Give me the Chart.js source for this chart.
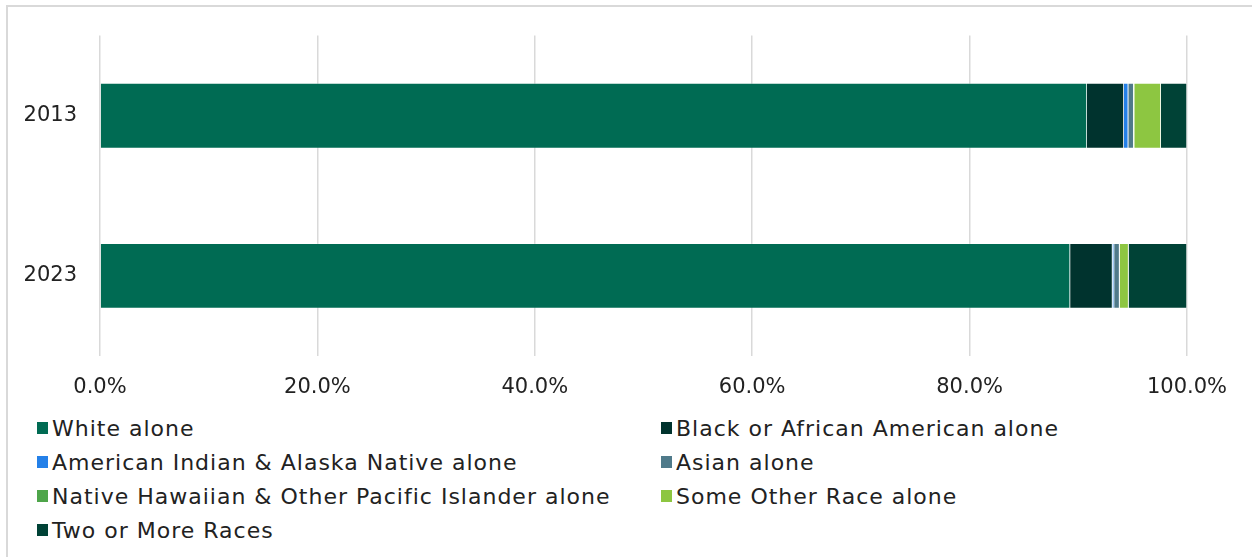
<!DOCTYPE html>
<html lang="en">
<head>
  <meta charset="UTF-8" />
  <title>Race distribution 2013 vs 2023</title>
  <script src="https://cdn.jsdelivr.net/npm/chart.js"></script>
  <style>
    html, body { margin: 0; padding: 0; background: #fff; }
    body { width: 1252px; height: 557px; position: relative; overflow: hidden; font-family: "DejaVu Sans", sans-serif; }
    .frame { position: absolute; left: 6px; top: 5px; width: 1260px; height: 570px; border-left: 2px solid #d9d9d9; border-top: 2px solid #d9d9d9; }
    .chart-box { position: absolute; left: 0; top: 0; width: 1252px; height: 410px; }
    #legend { position: absolute; left: 37px; top: 411px; display: grid; grid-template-columns: 624px 560px; row-gap: 0; }
    .item { display: flex; align-items: center; height: 34px; font-size: 22px; letter-spacing: 1px; color: #222; white-space: nowrap; }
    .swatch { width: 11px; height: 12px; margin-right: 4px; flex: none; }
  </style>
</head>
<body>
  <div class="frame"></div>
  <div class="chart-box"><canvas id="raceChart"></canvas></div>
  <div id="legend"></div>

  <script>
    // data (percent of population)
    const years = ["2013", "2023"];
    const whiteAlone = [90.8, 89.25];
    const blackAlone = [3.4, 3.9];
    const aianAlone = [0.4, 0.15];
    const asianAlone = [0.5, 0.5];
    const nhpiAlone = [0.05, 0.03];
    const otherAlone = [2.45, 0.8];
    const twoOrMore = [2.4, 5.37];
    const xTicks = [0, 20, 40, 60, 80, 100];

    const series = [
      { label: "White alone", data: whiteAlone, color: "#006b53" },
      { label: "Black or African American alone", data: blackAlone, color: "#00332e" },
      { label: "American Indian & Alaska Native alone", data: aianAlone, color: "#2480e8" },
      { label: "Asian alone", data: asianAlone, color: "#4f7a8a" },
      { label: "Native Hawaiian & Other Pacific Islander alone", data: nhpiAlone, color: "#4ea54a" },
      { label: "Some Other Race alone", data: otherAlone, color: "#8dc641" },
      { label: "Two or More Races", data: twoOrMore, color: "#004236" }
    ];

    const textColor = "#222";
    const tickFont = { family: "DejaVu Sans", size: 21 };

    const chart = new Chart(document.getElementById("raceChart"), {
      type: "bar",
      data: {
        labels: years,
        datasets: series.map(s => ({
          label: s.label,
          data: s.data,
          backgroundColor: s.color,
          borderColor: "rgba(255,255,255,0.35)",
          borderWidth: 0.75,
          categoryPercentage: 0.8,
          barPercentage: 0.51
        }))
      },
      options: {
        indexAxis: "y",
        responsive: true,
        maintainAspectRatio: false,
        animation: false,
        layout: { padding: { top: 34, right: 65, bottom: 0, left: 0 } },
        plugins: {
          legend: { display: false },
          tooltip: { enabled: false }
        },
        scales: {
          x: {
            stacked: true,
            min: 0,
            max: 100,
            afterBuildTicks: axis => { axis.ticks = xTicks.map(v => ({ value: v })); },
            afterFit: axis => { axis.height = 54; },
            grid: { color: "#d9d9d9", lineWidth: 1.5, drawTicks: false },
            border: { display: false },
            ticks: {
              color: textColor,
              font: tickFont,
              padding: 19,
              maxRotation: 0,
              callback: v => v.toFixed(1) + "%"
            }
          },
          y: {
            stacked: true,
            afterFit: axis => { axis.width = 100; },
            grid: { display: false, drawTicks: false },
            border: { display: false },
            ticks: { color: textColor, font: tickFont, padding: 23 }
          }
        }
      }
    });

    // two-column legend built from the chart's datasets
    const legendEl = document.getElementById("legend");
    chart.data.datasets.forEach(ds => {
      const item = document.createElement("div");
      item.className = "item";
      const sw = document.createElement("span");
      sw.className = "swatch";
      sw.style.background = ds.backgroundColor;
      item.appendChild(sw);
      item.appendChild(document.createTextNode(ds.label));
      legendEl.appendChild(item);
    });
  </script>
</body>
</html>
